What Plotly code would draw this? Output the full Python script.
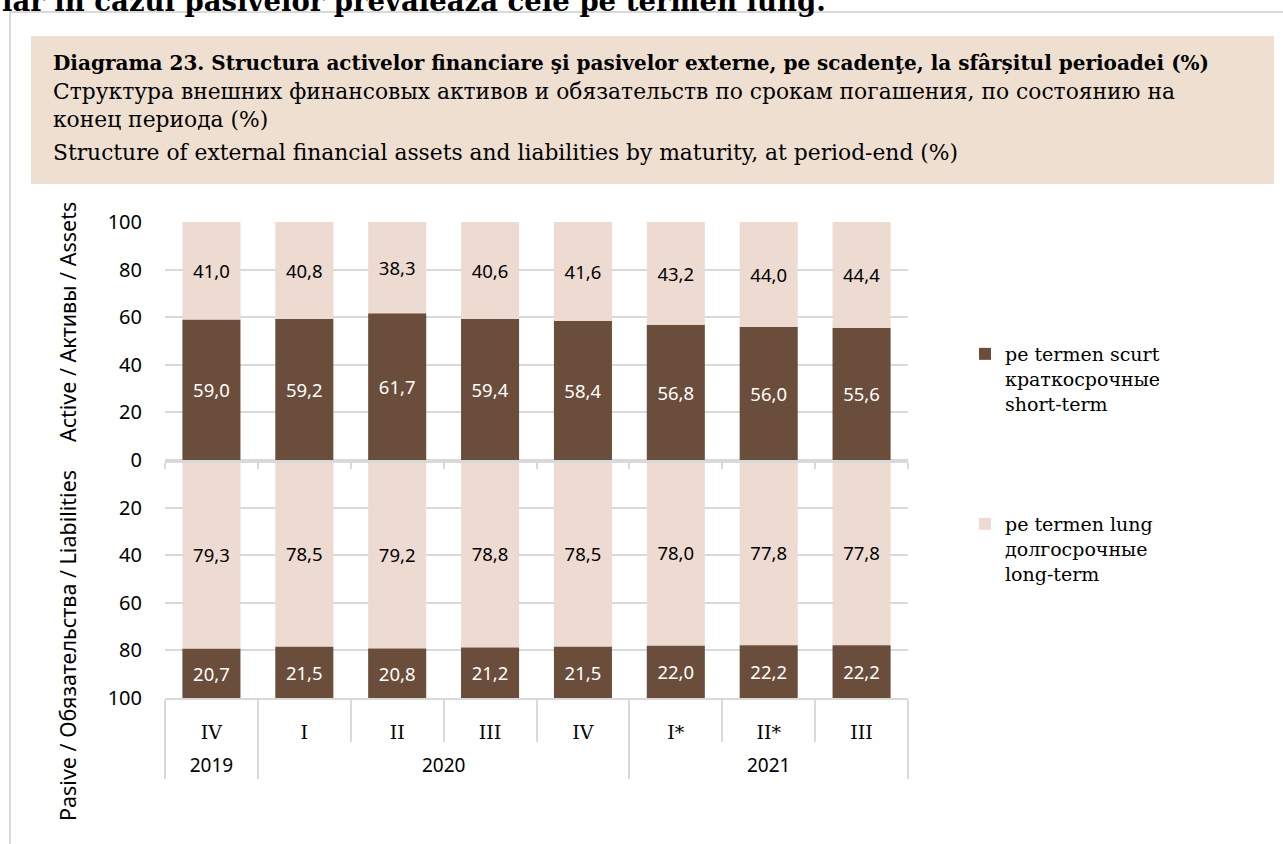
import plotly.graph_objects as go

# ---------------- data ----------------
quarters = ["IV", "I", "II", "III", "IV", "I*", "II*", "III"]
years = ["2019", "2020", "2020", "2020", "2020", "2021", "2021", "2021"]
assets_short = [59.0, 59.2, 61.7, 59.4, 58.4, 56.8, 56.0, 55.6]
assets_long = [41.0, 40.8, 38.3, 40.6, 41.6, 43.2, 44.0, 44.4]
liab_long = [79.3, 78.5, 79.2, 78.8, 78.5, 78.0, 77.8, 77.8]
liab_short = [20.7, 21.5, 20.8, 21.2, 21.5, 22.0, 22.2, 22.2]
y_tick_vals = [-100, -80, -60, -40, -20, 0, 20, 40, 60, 80, 100]
y_tick_text = [str(abs(v)) for v in y_tick_vals]

label_short = "pe termen scurt<br>краткосрочные<br>short-term"
label_long = "pe termen lung<br>долгосрочные<br>long-term"
title_bold = "<b>Diagrama 23. Structura activelor financiare şi pasivelor externe, pe scadenţe, la sfârșitul perioadei (%)</b>"
title_lines = [
    "Структура внешних финансовых активов и обязательств по срокам погашения, по состоянию на",
    "конец периода (%)",
    "Structure of external financial assets and liabilities by maturity, at period-end (%)",
]
top_text = "<b>iar în cazul pasivelor prevalează cele pe termen lung.</b>"
axis_assets = "Active / Активы / Assets"
axis_liab = "Pasive / Обязательства / Liabilities"

# ---------------- style ----------------
DARK = "#6B4D3B"
LIGHT = "#EDDBD2"
GRID = "#D9D9D9"
BOX = "#EEDFD1"
SERIF = "DejaVu Serif"
SANS = "Noto Sans"

W, H = 1283, 844
L, R, T, B = 165, 908, 222, 698


def px2x(px):
    return (px - L) / (R - L)


def py2y(py):
    return (B - py) / (B - T)


def fmt(v):
    return f"{v:.1f}".replace(".", ",")


# multicategory keys: quarter labels made unique (zero-width suffix) so order is kept
seen = {}
q_keys = []
for q in quarters:
    k = seen.get(q, 0)
    q_keys.append(q + "\u200b" * k)
    seen[q] = k + 1
y_keys = [f'<br><span style="font-family:{SANS}">{y}</span>' for y in years]
xcat = [y_keys, q_keys]

fig = go.Figure()


def add_bar(vals, sign, color, txtcolor, name, legend, show):
    fig.add_trace(go.Bar(
        x=xcat, y=[sign * v for v in vals],
        marker=dict(color=color, line=dict(width=0)),
        text=[fmt(v) for v in vals], textposition="inside",
        insidetextanchor="middle", textangle=0, constraintext="none",
        textfont=dict(family=SANS, size=18.5, color=txtcolor),
        name=name, legend=legend, legendgroup=name, showlegend=show,
        hoverinfo="skip",
    ))


add_bar(assets_short, 1, DARK, "white", label_short, "legend", True)
add_bar(assets_long, 1, LIGHT, "black", label_long, "legend2", True)
add_bar(liab_long, -1, LIGHT, "black", label_long, "legend2", False)
add_bar(liab_short, -1, DARK, "white", label_short, "legend", False)

# helper trace for the zero axis
fig.add_trace(go.Scatter(x=[None], y=[None], xaxis="x2", showlegend=False, hoverinfo="skip"))

n = len(quarters)
bounds = [i - 0.5 for i in range(n + 1)]

fig.update_layout(
    width=W, height=H,
    margin=dict(l=L, r=W - R, t=T, b=H - B, autoexpand=False),
    paper_bgcolor="white", plot_bgcolor="white",
    barmode="relative", bargap=0.375,
    font=dict(family=SERIF, color="black"),
    xaxis=dict(
        type="multicategory", showline=True, linecolor=GRID, linewidth=2,
        ticks="outside", tickson="boundaries", ticklen=42, tickcolor=GRID, tickwidth=2,
        showdividers=True, dividercolor=GRID, dividerwidth=2,
        tickfont=dict(family=SERIF, size=19, color="black"),
        ticklabelstandoff=16,
        showgrid=False, automargin=False, fixedrange=True,
    ),
    xaxis2=dict(
        overlaying="x", anchor="free", position=py2y(461),
        range=[-0.5, n - 0.5], tickvals=bounds, ticks="outside", ticklen=6,
        tickcolor=GRID, tickwidth=2, showline=True, linecolor=GRID, linewidth=3,
        showticklabels=False, showgrid=False, zeroline=False, fixedrange=True,
    ),
    yaxis=dict(
        range=[-100, 100], tickvals=y_tick_vals, ticktext=y_tick_text,
        showgrid=True, gridcolor=GRID, gridwidth=2, zeroline=False,
        tickfont=dict(family=SANS, size=20, color="black"),
        ticklabelstandoff=22, automargin=False, fixedrange=True,
    ),
    legend=dict(
        x=px2x(965), y=py2y(335), xanchor="left", yanchor="top",
        font=dict(family=SERIF, size=19, color="black"), valign="top",
        bgcolor="rgba(0,0,0,0)",
    ),
    legend2=dict(
        x=px2x(965), y=py2y(505), xanchor="left", yanchor="top",
        font=dict(family=SERIF, size=19, color="black"), valign="top",
        bgcolor="rgba(0,0,0,0)",
    ),
    shapes=[
        dict(type="rect", xref="paper", yref="paper", x0=px2x(10), x1=px2x(1300),
             y0=py2y(12), y1=py2y(900), line=dict(color=GRID, width=2), layer="below"),
        dict(type="rect", xref="paper", yref="paper", x0=px2x(31), x1=px2x(1274),
             y0=py2y(36), y1=py2y(184), fillcolor=BOX, line=dict(width=0), layer="below"),
    ],
)

ann = [dict(text=title_bold, x=px2x(51), y=py2y(63), xref="paper", yref="paper",
            xanchor="left", yanchor="middle", showarrow=False,
            font=dict(family=SERIF, size=20, color="black"))]
for txt, yy in zip(title_lines, [91, 119, 152]):
    ann.append(dict(text=txt, x=px2x(51), y=py2y(yy), xref="paper", yref="paper",
                    xanchor="left", yanchor="middle", showarrow=False,
                    font=dict(family=SERIF, size=21.8, color="black")))
ann.append(dict(text=top_text, x=px2x(0), y=py2y(1), xref="paper", yref="paper",
                xanchor="left", yanchor="middle", showarrow=False,
                font=dict(family=SERIF, size=27.5, color="black")))
ann.append(dict(text=axis_assets, x=px2x(67), y=py2y(322), xref="paper", yref="paper",
                textangle=-90, xanchor="center", yanchor="middle", showarrow=False,
                font=dict(family=SANS, size=21.5, color="black")))
ann.append(dict(text=axis_liab, x=px2x(67), y=py2y(646), xref="paper", yref="paper",
                textangle=-90, xanchor="center", yanchor="middle", showarrow=False,
                font=dict(family=SANS, size=21.5, color="black")))
fig.update_layout(annotations=ann)

fig.write_html("out.html", config={"displayModeBar": False},
               post_script="document.body.style.margin='0';document.body.style.overflow='hidden';")
